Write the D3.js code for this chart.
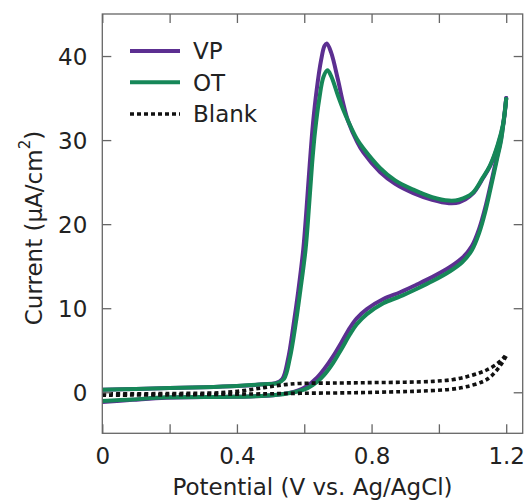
<!DOCTYPE html>
<html>
<head>
<meta charset="utf-8">
<script src="https://cdn.jsdelivr.net/npm/d3@7"></script>
<style>
  html, body { margin: 0; padding: 0; background: #fff; }
  svg { display: block; }
  text { font-family: "DejaVu Sans", Verdana, sans-serif; fill: #222; }
</style>
</head>
<body>
<svg id="chart" width="526" height="502"></svg>
<script>
// ---------- data ----------
const xTicks = [0, 0.2, 0.4, 0.6, 0.8, 1.0, 1.2];
const xTickLabels = ["0", "", "0.4", "", "0.8", "", "1.2"];
const yTicks = [0, 10, 20, 30, 40];
const yTickLabels = ["0", "10", "20", "30", "40"];
const seriesNames = ["VP", "OT", "Blank"];

// VP forward (anodic) scan
const vpFwdV = [0, 0.1, 0.2, 0.3, 0.4, 0.48, 0.515, 0.535, 0.552, 0.568, 0.582, 0.597, 0.607, 0.616, 0.626, 0.637, 0.650, 0.660, 0.667, 0.68, 0.70, 0.715, 0.73, 0.757, 0.776, 0.825, 0.87, 0.924, 0.98, 1.03, 1.06, 1.10, 1.13, 1.152, 1.175, 1.191, 1.2];
const vpFwdI = [0.3, 0.4, 0.5, 0.6, 0.75, 0.95, 1.1, 1.6, 4, 8, 12, 17, 22, 27, 32, 36, 39.5, 41.2, 41.5, 40.4, 37.2, 34.5, 32.3, 29.8, 28.5, 26.2, 24.8, 23.7, 22.9, 22.5, 22.6, 23.6, 25.4, 26.9, 29.3, 31.8, 35.0];
// VP reverse (cathodic) scan
const vpRevV = [1.2, 1.185, 1.172, 1.155, 1.138, 1.12, 1.098, 1.07, 1.033, 0.98, 0.934, 0.885, 0.835, 0.786, 0.756, 0.736, 0.71, 0.686, 0.66, 0.637, 0.61, 0.58, 0.52, 0.44, 0.35, 0.19, 0.09, 0];
const vpRevI = [35.0, 30.2, 27.9, 24.9, 22.0, 19.5, 17.4, 16.0, 14.9, 13.7, 12.8, 11.9, 11.1, 9.9, 8.8, 7.7, 5.9, 4.3, 2.8, 1.7, 0.8, 0.2, -0.3, -0.5, -0.55, -0.65, -0.9, -1.15];

// OT forward scan
const otFwdV = [0, 0.1, 0.2, 0.3, 0.4, 0.48, 0.52, 0.540, 0.557, 0.574, 0.588, 0.604, 0.614, 0.623, 0.632, 0.645, 0.657, 0.669, 0.68, 0.70, 0.715, 0.73, 0.757, 0.776, 0.825, 0.87, 0.924, 0.98, 1.03, 1.06, 1.10, 1.13, 1.152, 1.175, 1.191, 1.2];
const otFwdI = [0.3, 0.4, 0.5, 0.6, 0.75, 0.95, 1.1, 1.6, 4, 8, 12, 17, 22, 27, 31, 35, 37.5, 38.3, 37.6, 35.3, 33.7, 32.3, 30.1, 29.0, 26.7, 25.2, 24.1, 23.2, 22.8, 22.9, 23.7, 25.5, 27.0, 29.5, 32.0, 34.9];
// OT reverse scan
const otRevV = [1.2, 1.185, 1.172, 1.155, 1.138, 1.12, 1.098, 1.07, 1.033, 0.98, 0.934, 0.885, 0.835, 0.786, 0.756, 0.736, 0.71, 0.686, 0.66, 0.637, 0.61, 0.58, 0.52, 0.44, 0.35, 0.19, 0.09, 0];
const otRevI = [34.9, 30.0, 27.6, 24.5, 21.5, 19.0, 16.9, 15.5, 14.4, 13.2, 12.3, 11.4, 10.6, 9.3, 8.1, 6.9, 5.1, 3.5, 2.1, 1.2, 0.5, 0.1, -0.3, -0.5, -0.55, -0.6, -0.85, -1.05];

// Blank, upper and lower branches
const blankFwdV = [0, 0.2, 0.35, 0.42, 0.48, 0.53, 0.587, 0.7, 0.8, 0.9, 0.983, 1.04, 1.083, 1.12, 1.142, 1.17, 1.19, 1.2];
const blankFwdI = [-0.2, -0.15, -0.05, 0.2, 0.55, 0.85, 1.05, 1.1, 1.15, 1.2, 1.3, 1.5, 1.85, 2.3, 2.65, 3.3, 4.0, 4.5];
const blankRevV = [1.2, 1.18, 1.155, 1.132, 1.08, 1.033, 0.95, 0.885, 0.75, 0.59, 0.45, 0.2, 0];
const blankRevI = [4.3, 3.05, 1.9, 1.3, 0.65, 0.35, 0.15, 0.07, -0.05, -0.12, -0.2, -0.3, -0.35];

// ---------- layout ----------
const svg = d3.select("#chart");
const m = { left: 102.3, right: 522.7, top: 14, bottom: 433.3 };
const x = d3.scaleLinear().domain([0, 1.249]).range([m.left, m.right]);
const y = d3.scaleLinear().domain([-4.88, 45.0]).range([m.bottom, m.top]);

const colors = { VP: "#5c2f91", OT: "#168758", Blank: "#111" };
const zip = (vs, is) => vs.map((v, k) => [v, is[k]]);

svg.append("defs").append("clipPath").attr("id", "clip")
  .append("rect").attr("x", m.left).attr("y", m.top)
  .attr("width", m.right - m.left).attr("height", m.bottom - m.top);

const line = d3.line().x(d => x(d[0])).y(d => y(d[1])).curve(d3.curveCatmullRom.alpha(0.5));
const g = svg.append("g").attr("clip-path", "url(#clip)");

function drawBranch(data, name) {
  const p = g.append("path").datum(data).attr("d", line)
    .attr("fill", "none").attr("stroke", colors[name])
    .attr("stroke-linejoin", "round");
  if (name === "Blank") {
    p.attr("stroke-width", 3.6).attr("stroke-dasharray", "4,3");
  } else {
    p.attr("stroke-width", 4).attr("stroke-linecap", "round");
  }
}
drawBranch(zip(vpFwdV, vpFwdI), "VP");
drawBranch(zip(vpRevV, vpRevI), "VP");
drawBranch(zip(otFwdV, otFwdI), "OT");
drawBranch(zip(otRevV, otRevI), "OT");
drawBranch(zip(blankFwdV, blankFwdI), "Blank");
drawBranch(zip(blankRevV, blankRevI), "Blank");

// ---------- axes (frame with inward ticks) ----------
const axisColor = "#666";
const tl = 9;
const fontSize = 23;
const axB = d3.axisBottom(x).tickValues(xTicks).tickSize(-tl).tickPadding(14)
  .tickFormat((d, i) => xTickLabels[i]);
const axT = d3.axisTop(x).tickValues(xTicks).tickSize(-tl).tickFormat("");
const axL = d3.axisLeft(y).tickValues(yTicks).tickSize(-tl).tickPadding(15)
  .tickFormat((d, i) => yTickLabels[i]);
const axR = d3.axisRight(y).tickValues(yTicks).tickSize(-tl).tickFormat("");

function styleAxis(sel) {
  sel.select(".domain").remove();
  sel.selectAll("line").attr("stroke", axisColor).attr("stroke-width", 1.3);
  sel.selectAll("text").attr("font-size", fontSize).attr("fill", "#222")
    .attr("font-family", "'DejaVu Sans', Verdana, sans-serif");
}
svg.append("g").attr("transform", `translate(0,${m.bottom})`).call(axB).call(styleAxis);
svg.append("g").attr("transform", `translate(0,${m.top})`).call(axT).call(styleAxis);
svg.append("g").attr("transform", `translate(${m.left},0)`).call(axL).call(styleAxis)
  .selectAll("text").attr("dy", "0.36em");
svg.append("g").attr("transform", `translate(${m.right},0)`).call(axR).call(styleAxis);

svg.append("rect").attr("x", m.left).attr("y", m.top)
  .attr("width", m.right - m.left).attr("height", m.bottom - m.top)
  .attr("fill", "none").attr("stroke", axisColor).attr("stroke-width", 1.3);

// ---------- axis titles ----------
svg.append("text").attr("x", (m.left + m.right) / 2).attr("y", 495)
  .attr("text-anchor", "middle").attr("font-size", fontSize)
  .text("Potential (V vs. Ag/AgCl)");

const yt = svg.append("text").attr("transform", "translate(42,228) rotate(-90)")
  .attr("text-anchor", "middle").attr("font-size", fontSize);
yt.append("tspan").text("Current (\u00B5A/cm");
yt.append("tspan").attr("font-size", 15).attr("dy", "-0.8em").text("2");
yt.append("tspan").attr("dy", "0.52em").text(")");

// ---------- legend ----------
const legY = [51, 82.3, 114];
seriesNames.forEach((name, i) => {
  const l = svg.append("line").attr("x1", 130).attr("x2", 180)
    .attr("y1", legY[i]).attr("y2", legY[i]).attr("stroke", colors[name]);
  if (name === "Blank") l.attr("stroke-width", 3.6).attr("stroke-dasharray", "4,3");
  else l.attr("stroke-width", 4);
  svg.append("text").attr("x", 193).attr("y", legY[i]).attr("dy", "0.36em")
    .attr("font-size", fontSize).text(name);
});
</script>
</body>
</html>
